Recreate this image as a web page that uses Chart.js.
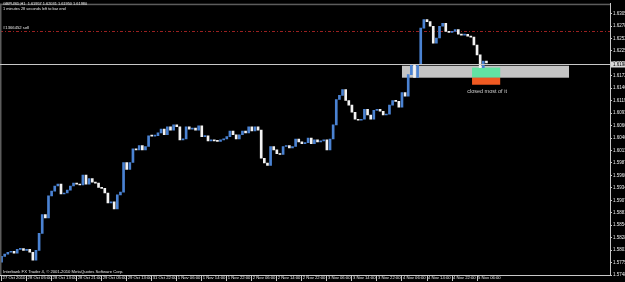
<!DOCTYPE html>
<html>
<head>
<meta charset="utf-8">
<script src="https://cdn.jsdelivr.net/npm/chart.js@4"></script>
<style>
  html, body { margin: 0; padding: 0; background: #000; }
  #wrap { width: 625px; height: 282px; }
</style>
</head>
<body>
<div id="wrap"><canvas id="priceChart" width="625" height="282"></canvas></div>
<script>
// GBPUSD H1, 27 Oct - 5 Nov 2010
const opens = [
  1.5776, 1.5788, 1.5793, 1.5797, 1.5799, 1.5795, 1.5803, 1.5805, 1.5801, 1.5803,
  1.5797, 1.5780, 1.5801, 1.5837, 1.5877, 1.5870, 1.5917, 1.5927, 1.5938, 1.5942,
  1.5921, 1.5923, 1.5929, 1.5938, 1.5944, 1.5942, 1.5940, 1.5961, 1.5942, 1.5954,
  1.5946, 1.5944, 1.5935, 1.5933, 1.5923, 1.5902, 1.5904, 1.5889, 1.5919, 1.5925,
  1.5988, 1.5973, 1.5988, 1.6017, 1.6015, 1.6024, 1.6015, 1.6022, 1.6045, 1.6044,
  1.6045, 1.6051, 1.6059, 1.6047, 1.6064, 1.6057, 1.6068, 1.6064, 1.6036, 1.6038,
  1.6064, 1.6059, 1.6061, 1.6057, 1.6066, 1.6043, 1.6045, 1.6034, 1.6036, 1.6034,
  1.6033, 1.6036, 1.6038, 1.6043, 1.6055, 1.6047, 1.6038, 1.6047, 1.6055, 1.6051,
  1.6064, 1.6055, 1.6064, 1.6057, 1.5997, 1.5987, 1.5982, 1.6022, 1.6015, 1.6007,
  1.6005, 1.6022, 1.6024, 1.6019, 1.6022, 1.6038, 1.6032, 1.6028, 1.6030, 1.6040,
  1.6028, 1.6036, 1.6032, 1.6034, 1.6036, 1.6015, 1.6038, 1.6068, 1.6122, 1.6131,
  1.6143, 1.6120, 1.6110, 1.6095, 1.6080, 1.6078, 1.6080, 1.6101, 1.6089, 1.6080,
  1.6099, 1.6101, 1.6097, 1.6089, 1.6091, 1.6110, 1.6120, 1.6118, 1.6106, 1.6137,
  1.6129, 1.6175, 1.6196, 1.6169, 1.6196, 1.6274, 1.6292, 1.6288, 1.6278, 1.6242,
  1.6253, 1.6278, 1.6284, 1.6267, 1.6265, 1.6267, 1.6271, 1.6261, 1.6259, 1.6261,
  1.6257, 1.6255, 1.6238, 1.6217, 1.6190, 1.6204
];
const closes = [
  1.5788, 1.5793, 1.5797, 1.5799, 1.5795, 1.5803, 1.5805, 1.5801, 1.5803, 1.5797,
  1.5780, 1.5801, 1.5837, 1.5877, 1.5870, 1.5917, 1.5927, 1.5938, 1.5942, 1.5921,
  1.5923, 1.5929, 1.5938, 1.5944, 1.5942, 1.5940, 1.5961, 1.5942, 1.5954, 1.5946,
  1.5944, 1.5935, 1.5933, 1.5923, 1.5902, 1.5904, 1.5889, 1.5919, 1.5925, 1.5988,
  1.5973, 1.5988, 1.6017, 1.6015, 1.6024, 1.6015, 1.6022, 1.6045, 1.6044, 1.6045,
  1.6051, 1.6059, 1.6047, 1.6064, 1.6057, 1.6068, 1.6064, 1.6036, 1.6038, 1.6064,
  1.6059, 1.6061, 1.6057, 1.6066, 1.6043, 1.6045, 1.6034, 1.6036, 1.6034, 1.6033,
  1.6036, 1.6038, 1.6043, 1.6055, 1.6047, 1.6038, 1.6047, 1.6055, 1.6051, 1.6064,
  1.6055, 1.6064, 1.6057, 1.5997, 1.5987, 1.5982, 1.6022, 1.6015, 1.6007, 1.6005,
  1.6022, 1.6024, 1.6019, 1.6022, 1.6038, 1.6032, 1.6028, 1.6030, 1.6040, 1.6028,
  1.6036, 1.6032, 1.6034, 1.6036, 1.6015, 1.6038, 1.6068, 1.6122, 1.6131, 1.6143,
  1.6120, 1.6110, 1.6095, 1.6080, 1.6078, 1.6080, 1.6101, 1.6089, 1.6080, 1.6099,
  1.6101, 1.6097, 1.6089, 1.6091, 1.6110, 1.6120, 1.6118, 1.6106, 1.6137, 1.6129,
  1.6175, 1.6196, 1.6169, 1.6196, 1.6274, 1.6292, 1.6288, 1.6278, 1.6242, 1.6253,
  1.6278, 1.6284, 1.6267, 1.6265, 1.6267, 1.6271, 1.6261, 1.6259, 1.6261, 1.6257,
  1.6255, 1.6238, 1.6217, 1.6190, 1.6204, 1.6200
];

// one label every 8 bars
const timeLabels = [
  '27 Oct 2010', '28 Oct 05:00', '28 Oct 13:00', '28 Oct 21:00', '29 Oct 05:00',
  '29 Oct 13:00', '31 Oct 22:00', '1 Nov 06:00', '1 Nov 14:00', '1 Nov 22:00',
  '2 Nov 06:00', '2 Nov 14:00', '2 Nov 22:00', '3 Nov 06:00', '3 Nov 14:00',
  '3 Nov 22:00', '4 Nov 06:00', '4 Nov 14:00', '4 Nov 22:00', '5 Nov 06:00'
];
const priceTicks = [
  1.63050, 1.62785, 1.62520, 1.62255, 1.61990, 1.61725, 1.61460, 1.61195,
  1.60930, 1.60665, 1.60400, 1.60135, 1.59870, 1.59605, 1.59340, 1.59075,
  1.58810, 1.58545, 1.58280, 1.58015, 1.57750, 1.57485
];
const slotCount = 195;        // bars + empty shift area on the right
const priceMin = 1.57485;
const priceMax = 1.63260;

const bidPrice = 1.61980;
const sellOrderPrice = 1.62672;
const sellOrderText = '#1366452 sell';
const headerLines = [
  'GBPUSD,H1  1.61957 1.62031 1.61950 1.61980',
  '1 minutes 28 seconds left to bar end'
];
const copyrightText = 'Interbank FX Trader 4, \u00a9 2001-2010 MetaQuotes Software Corp.';

// drawn rectangles: [bar from, bar to], [price top, price bottom]
const zoneBars = [128.0, 181.4];
const zonePrices = [1.61940, 1.61685];
const closedBars = [150.4, 159.4];
const closedGreen = [1.61900, 1.61685];
const closedOrange = [1.61685, 1.61535];
const noteText = 'closed most of it';
const noteAt = [155.2, 1.61391];

const bullColor = '#4a82d2';
const bearColor = '#f2f2f2';

const slotLabels = [];
for (let i = 0; i < slotCount; i++) {
  slotLabels.push(i % 8 === 0 && i / 8 < timeLabels.length ? timeLabels[i / 8] : '');
}
const bodies = opens.map((o, i) => [o, closes[i]]);

const mtOverlay = {
  id: 'mtOverlay',
  beforeDatasetsDraw(chart) {
    const { ctx, chartArea: a, scales: { x, y } } = chart;
    ctx.save();
    // rectangles sit behind the candles
    ctx.fillStyle = '#c4c4c4';
    ctx.fillRect(x.getPixelForValue(zoneBars[0]), y.getPixelForValue(zonePrices[0]),
      x.getPixelForValue(zoneBars[1]) - x.getPixelForValue(zoneBars[0]),
      y.getPixelForValue(zonePrices[1]) - y.getPixelForValue(zonePrices[0]));
    ctx.fillStyle = '#62e3a3';
    ctx.fillRect(x.getPixelForValue(closedBars[0]), y.getPixelForValue(closedGreen[0]),
      x.getPixelForValue(closedBars[1]) - x.getPixelForValue(closedBars[0]),
      y.getPixelForValue(closedGreen[1]) - y.getPixelForValue(closedGreen[0]));
    ctx.fillStyle = '#f05a22';
    ctx.fillRect(x.getPixelForValue(closedBars[0]), y.getPixelForValue(closedOrange[0]),
      x.getPixelForValue(closedBars[1]) - x.getPixelForValue(closedBars[0]),
      y.getPixelForValue(closedOrange[1]) - y.getPixelForValue(closedOrange[0]));

    // sell order line
    const oy = Math.round(y.getPixelForValue(sellOrderPrice)) + 0.5;
    ctx.strokeStyle = '#9a2020';
    ctx.lineWidth = 1;
    ctx.setLineDash([3, 2, 1, 2]);
    ctx.beginPath();
    ctx.moveTo(a.left, oy);
    ctx.lineTo(a.right, oy);
    ctx.stroke();
    ctx.setLineDash([]);
    ctx.restore();
  },
  afterDatasetsDraw(chart) {
    const { ctx, chartArea: a, scales: { x, y } } = chart;
    ctx.save();
    // frame
    ctx.fillStyle = '#5c5c5c';
    ctx.fillRect(a.left, a.top, a.right - a.left, 1.5);
    ctx.fillRect(a.left, a.top, 1.5, a.bottom - a.top);

    // bid line
    const by = Math.round(y.getPixelForValue(bidPrice)) + 0.5;
    ctx.strokeStyle = '#c8c8c8';
    ctx.lineWidth = 1;
    ctx.beginPath();
    ctx.moveTo(a.left, by);
    ctx.lineTo(a.right, by);
    ctx.stroke();

    // texts
    ctx.font = '3.9px "Liberation Sans", Arial, sans-serif';
    ctx.fillStyle = '#e8e8e8';
    ctx.textBaseline = 'middle';
    ctx.textAlign = 'left';
    ctx.fillText(headerLines[0], 3, 4);
    ctx.fillText(headerLines[1], 3, 9);
    ctx.font = '4.2px "Liberation Sans", Arial, sans-serif';
    ctx.fillText(sellOrderText, 3, y.getPixelForValue(sellOrderPrice) - 3.5);
    ctx.fillText(copyrightText, 3, a.bottom - 3.5);

    ctx.font = '5.5px "Liberation Sans", Arial, sans-serif';
    ctx.fillStyle = '#cfcfcf';
    ctx.textAlign = 'center';
    ctx.fillText(noteText, x.getPixelForValue(noteAt[0]), y.getPixelForValue(noteAt[1]));

    // bid price tag on the price scale
    ctx.fillStyle = '#d8d8d8';
    ctx.fillRect(a.right + 1, by - 3, 625 - a.right - 1, 6);
    ctx.fillStyle = '#000';
    ctx.font = '4.5px "Liberation Sans", Arial, sans-serif';
    ctx.textAlign = 'left';
    ctx.fillText(bidPrice.toFixed(5), a.right + 3, by);
    ctx.restore();
  }
};

Chart.defaults.font.family = '"Liberation Sans", Arial, sans-serif';

new Chart(document.getElementById('priceChart'), {
  type: 'bar',
  data: {
    labels: slotLabels,
    datasets: [{
      data: bodies,
      backgroundColor: c => (closes[c.dataIndex] >= opens[c.dataIndex] ? bullColor : bearColor),
      barThickness: 2,
      minBarLength: 1,
      borderWidth: 0
    }]
  },
  options: {
    responsive: false,
    animation: false,
    devicePixelRatio: 1,
    layout: { padding: 0 },
    plugins: { legend: { display: false }, tooltip: { enabled: false } },
    scales: {
      x: {
        offset: true,
        afterFit: s => { s.height = 7; },
        border: { display: true, color: '#c8c8c8', width: 1 },
        grid: {
          offset: false,
          drawOnChartArea: false,
          tickLength: 6,
          color: c => (c.tick && c.tick.label ? '#c8c8c8' : 'rgba(0,0,0,0)')
        },
        ticks: {
          autoSkip: false,
          maxRotation: 0,
          minRotation: 0,
          align: 'start',
          labelOffset: 1,
          padding: -6,
          color: '#ececec',
          font: { size: 4.2 }
        }
      },
      y: {
        position: 'right',
        min: priceMin,
        max: priceMax,
        afterFit: s => { s.width = 15; },
        afterBuildTicks: s => { s.ticks = priceTicks.map(v => ({ value: v })); },
        border: { display: true, color: '#c8c8c8', width: 1 },
        grid: { drawOnChartArea: false, tickLength: 2, color: '#c8c8c8' },
        ticks: {
          padding: 1,
          color: '#ececec',
          font: { size: 4.5 },
          callback: v => v.toFixed(5)
        }
      }
    }
  },
  plugins: [mtOverlay]
});
</script>
</body>
</html>
